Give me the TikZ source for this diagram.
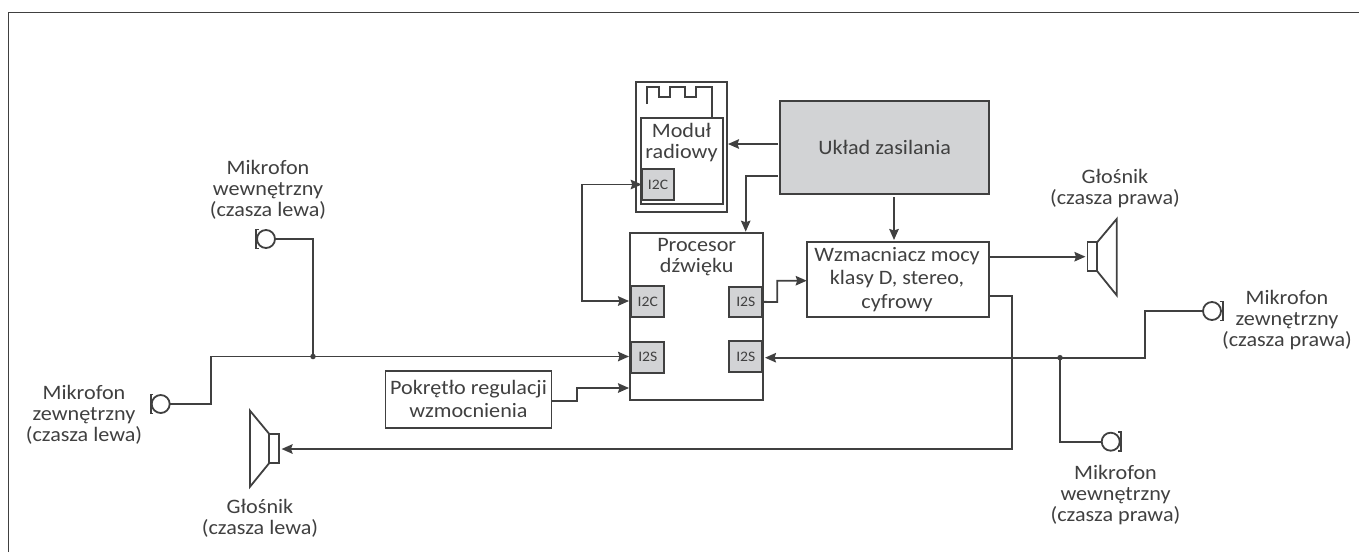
\documentclass[tikz,border=0pt]{standalone}
\usepackage{fontspec}
\setmainfont{Carlito}[FakeStretch=1.08]
\usetikzlibrary{arrows.meta,calc}
\definecolor{ink}{HTML}{404040}
\definecolor{chip}{HTML}{D2D3D5}
\tikzset{
 box/.style={draw=ink,line width=1.9pt,fill=white,inner sep=0pt,outer sep=0pt,anchor=north west},
 chipbox/.style={box,fill=chip,font=\fontsize{14.5}{15}\selectfont,text=ink},
 lbl/.style={align=center,text=ink,font=\fontsize{20.5}{21}\selectfont,inner sep=0pt},
 wire/.style={draw=ink,line width=1.8pt,line join=miter},
 tip/.style={-{Stealth[length=11pt,width=9.5pt,inset=1.5pt]}},
 arr/.style={wire,tip},
 dot/.style={circle,fill=ink,inner sep=0pt,minimum size=5.5pt},
 mic/.style={draw=ink,line width=1.8pt,circle,minimum size=18pt,inner sep=0pt,outer sep=0pt},
 cone/.style={draw=ink,line width=1.8pt,minimum width=9.7pt,minimum height=29pt,inner sep=0pt,outer sep=0pt},
}
\begin{document}
\begin{tikzpicture}[x=1pt,y=-1pt]
\useasboundingbox (0,0) rectangle (1359,552);
\fill[white] (0,0) rectangle (1359,552);
\draw[draw=ink,line width=1.2pt] (8.3,552) -- (8.3,12.3) -- (1359,12.3);
% radio
\node[box,minimum width=91.3pt,minimum height=129.7pt] (radio) at (636,82) {};
\draw[wire] (647.3,104) -- (647.3,87.3) -- (659.3,87.3) -- (659.3,97.3) -- (670,97.3) -- (670,87.3) -- (685,87.3) -- (685,97.3) -- (696,97.3) -- (696,87.3) -- (711.7,87.3) -- (711.7,118);
\node[box,minimum width=82pt,minimum height=86pt] (radioin) at (640.7,118.3) {};
\node[lbl,anchor=center] (radiot) at (681.5,143) {Moduł\\radiowy};
\node[chipbox,minimum width=32.6pt,minimum height=31pt] (ci2c) at (641.7,169) {I2C};
% power
\node[box,fill=chip,minimum width=209.3pt,minimum height=93pt,font=\fontsize{20.5}{21}\selectfont,text=ink] (power) at (780,101) {Układ zasilania};
% processor
\node[box,minimum width=133pt,minimum height=167pt] (proc) at (630.3,233) {};
\node[lbl] (proct) at (696.7,257) {Procesor\\dźwięku};
\node[chipbox,minimum width=33pt,minimum height=30.7pt] (pi2c) at (631.3,286) {I2C};
\node[chipbox,minimum width=33pt,minimum height=31pt] (pi2sl) at (631.3,341.7) {I2S};
\node[chipbox,minimum width=33pt,minimum height=30.3pt] (pi2sa) at (729.3,286.7) {I2S};
\node[chipbox,minimum width=33pt,minimum height=31.3pt] (pi2sb) at (729.3,340.7) {I2S};
% amp
\node[box,minimum width=182.3pt,minimum height=75.3pt] (amp) at (806.7,242) {};
\node[lbl,font=\fontsize{20.5}{23.7}\selectfont] (ampt) at (897,279.5) {Wzmacniacz mocy\\klasy D, stereo,\\cyfrowy};
% knob
\node[box,minimum width=166pt,minimum height=57pt] (knob) at (385.5,371) {};
\node[lbl,font=\fontsize{20.5}{23}\selectfont] (knobt) at (468.5,399) {Pokrętło regulacji\\wzmocnienia};
% mics
\node[mic] (mil) at (266,239) {};
\draw[wire] (258.5,229.5) -- (256,229.5) -- (256,248.5) -- (258.5,248.5);
\node[mic] (mel) at (160.7,404) {};
\draw[wire] (153.2,394.5) -- (150.7,394.5) -- (150.7,413.5) -- (153.2,413.5);
\node[mic] (mer) at (1212,311) {};
\draw[wire] (1219.5,301.5) -- (1222.7,301.5) -- (1222.7,320.5) -- (1219.5,320.5);
\node[mic] (mir) at (1110.7,441.7) {};
\draw[wire] (1118.2,432.2) -- (1120.7,432.2) -- (1120.7,451.2) -- (1118.2,451.2);
% speakers
\node[cone] (spl) at (274.2,448.5) {};
\draw[wire] (269.3,434) -- (250,410.7) -- (250,486.7) -- (269.3,463);
\node[cone] (spr) at (1092.3,256.7) {};
\draw[wire] (1097.2,242.2) -- (1116.7,219) -- (1116.7,295.3) -- (1097.2,271.2);
% labels
\node[lbl] (tmil) at (268,190) {Mikrofon\\wewnętrzny\\(czasza lewa)};
\node[lbl] (tmel) at (84,415) {Mikrofon\\zewnętrzny\\(czasza lewa)};
\node[lbl] (tspl) at (260,518) {Głośnik\\(czasza lewa)};
\node[lbl] (tspr) at (1115,189) {Głośnik\\(czasza prawa)};
\node[lbl] (tmer) at (1287,320) {Mikrofon\\zewnętrzny\\(czasza prawa)};
\node[lbl] (tmir) at (1115.5,495) {Mikrofon\\wewnętrzny\\(czasza prawa)};
% junctions
\node[dot] (jl) at (313,356.5) {};
\node[dot] (jr) at (1060,357.7) {};
% connectors
\draw[arr,shorten <=2pt] (power.west |- 0,144) -- (728,144);
\draw[arr,shorten <=2pt] (power.west |- 0,175.7) -- (745.7,175.7) -- (745.7,231.7);
\draw[arr,shorten <=3pt] (power.south -| 894,0) -- (894,240);
\draw[wire,{Stealth[length=11pt,width=9.5pt,inset=1.5pt]}-{Stealth[length=11pt,width=9.5pt,inset=1.5pt]}] (ci2c.west) -- (582,184.5) -- (582,301) -- (629,301);
\draw[arr] (pi2sa.east) -- (777.3,302) -- (777.3,280.7) -- (amp.west |- 0,280.7);
\draw[arr,shorten >=2pt] (amp.east |- spr.west) -- (spr.west);
\draw[arr] (mel.east) -- (211,404) -- (211,356.5) -- (jl.center) -- (629,356.5);
\draw[wire] (mil.east) -- (313,239) -- (jl.center);
\draw[arr] (knob.east |- 0,401) -- (577,401) -- (577,388) -- (629,388);
\draw[arr] (mer.west) -- (1145,311) -- (1145,357.7) -- (jr.center) -- (765,357.7);
\draw[wire] (jr.center) -- (1060,441.7) -- (mir.west);
\draw[arr,shorten >=2.5pt] (amp.east |- 0,295.7) -- (1012,295.7) -- (1012,449) -- (spl.east |- 0,449);
\end{tikzpicture}
\end{document}
